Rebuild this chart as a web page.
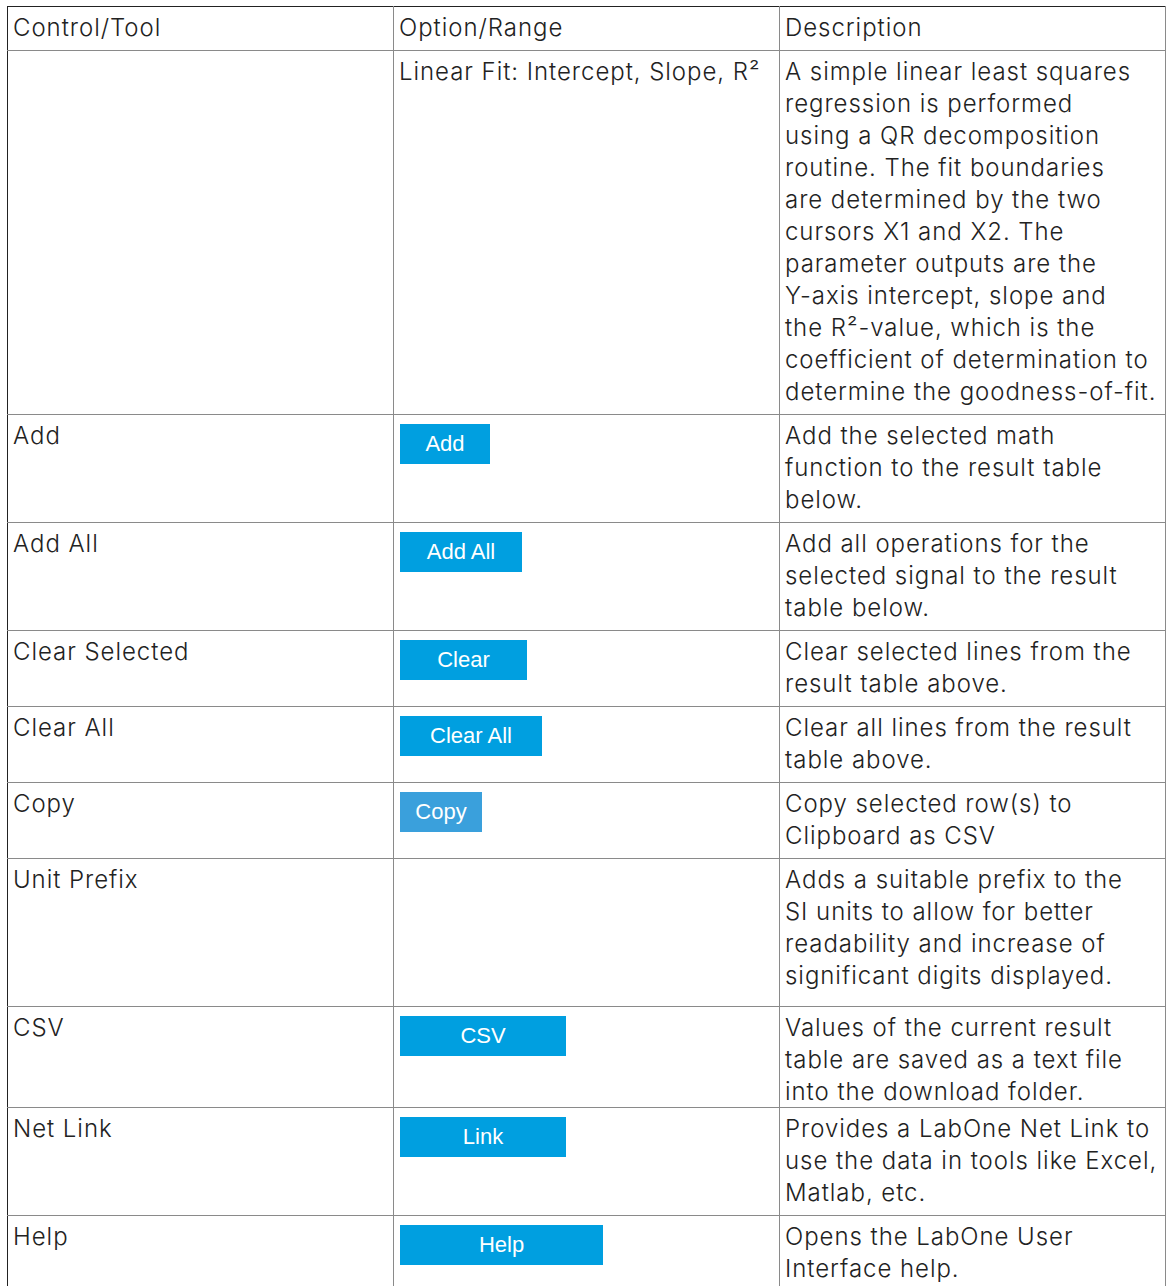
<!DOCTYPE html>
<html>
<head>
<meta charset="utf-8">
<script src="https://cdn.jsdelivr.net/npm/chart.js"></script>
<style>
  html, body { margin: 0; padding: 0; background: #fff; }
  body { width: 1166px; height: 1286px; overflow: hidden; position: relative; }
  #tbl {
    position: absolute; left: 7px; top: 6px;
    border-collapse: collapse; table-layout: fixed;
    font-family: "Inter", sans-serif; font-weight: 300;
    font-size: 24px; line-height: 32px; color: #222; letter-spacing: 0.95px;
  }
  #tbl td {
    border: 1px solid #8a8a8a; vertical-align: top;
    padding: 4px 2px 0 5px; box-sizing: border-box; white-space: nowrap;
    overflow: hidden;
  }
  #tbl td .inner { position: relative; top: 1px; }
  #tbl tr:first-child td { border-top: 1.5px solid #222; }
  #tbl td:first-child { border-left: 1.5px solid #222; }
  #tbl tr.dark td { border-top-color: #555; }
  .btn {
    display: inline-block; margin-top: 4px; margin-left: 1px; height: 40px; line-height: 40px;
    background: #009fe0; color: #fff; text-align: center; vertical-align: top; letter-spacing: 0;
    font-family: "Liberation Sans", Arial, sans-serif; font-weight: 400; font-size: 22px;
  }
</style>
</head>
<body>
<table id="tbl">
  <colgroup><col style="width:386px"><col style="width:386px"><col style="width:386px"></colgroup>
  <tbody id="data-output"></tbody>
</table>
<script>
const headers = ["Control/Tool", "Option/Range", "Description"];
const controls = ["", "Add", "Add All", "Clear Selected", "Clear All", "Copy", "Unit Prefix", "CSV", "Net Link", "Help"];
const options = ["Linear Fit: Intercept, Slope, R²", "", "", "", "", "", "", "", "", ""];
const buttons = ["", "Add", "Add All", "Clear", "Clear All", "Copy", "", "CSV", "Link", "Help"];
const buttonWidths = [0, 90, 122, 127, 142, 82, 0, 166, 166, 203];
const buttonColors = ["", "#009fe0", "#009fe0", "#009fe0", "#009fe0", "#3aa0dc", "", "#009fe0", "#009fe0", "#009fe0"];
const descriptions = [
  ["A simple linear least squares", "regression is performed", "using a QR decomposition", "routine. The fit boundaries", "are determined by the two", "cursors X1 and X2. The", "parameter outputs are the", "Y-axis intercept, slope and", "the R²-value, which is the", "coefficient of determination to", "determine the goodness-of-fit."],
  ["Add the selected math", "function to the result table", "below."],
  ["Add all operations for the", "selected signal to the result", "table below."],
  ["Clear selected lines from the", "result table above."],
  ["Clear all lines from the result", "table above."],
  ["Copy selected row(s) to", "Clipboard as CSV"],
  ["Adds a suitable prefix to the", "SI units to allow for better", "readability and increase of", "significant digits displayed."],
  ["Values of the current result", "table are saved as a text file", "into the download folder."],
  ["Provides a LabOne Net Link to", "use the data in tools like Excel,", "Matlab, etc."],
  ["Opens the LabOne User", "Interface help."]
];
const rowHeights = [44, 364, 108, 108, 76, 76, 76, 148, 100, 108, 80];
const darkRows = [1, 2, 3, 4, 5, 6, 9];

let placeholder = document.querySelector("#data-output");
let out = `<tr style="height:${rowHeights[0]}px">
  <td><div class="inner">${headers[0]}</div></td>
  <td><div class="inner">${headers[1]}</div></td>
  <td><div class="inner">${headers[2]}</div></td></tr>`;
for (let i = 0; i < controls.length; i++) {
  let opt = options[i];
  if (buttons[i]) {
    opt = `<span class="btn" style="width:${buttonWidths[i]}px;background:${buttonColors[i]}">${buttons[i]}</span>`;
  }
  out += `
    <tr class="${darkRows.includes(i) ? "dark" : ""}" style="height:${rowHeights[i + 1]}px">
      <td><div class="inner">${controls[i]}</div></td>
      <td><div class="inner">${opt}</div></td>
      <td><div class="inner">${descriptions[i].join("<br>")}</div></td>
    </tr>`;
}
placeholder.innerHTML = out;
</script>
</body>
</html>
